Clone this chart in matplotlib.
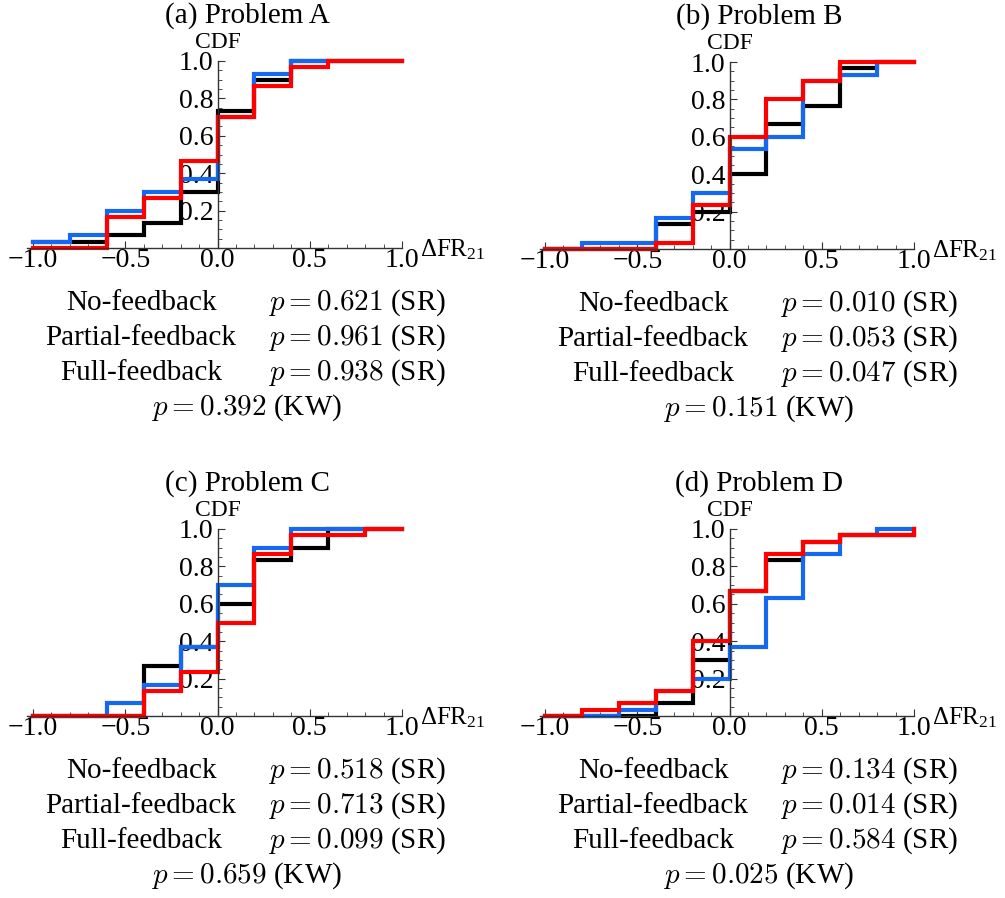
import numpy as np
import matplotlib
matplotlib.use("Agg")
import matplotlib.pyplot as plt

plt.rcParams['font.family'] = ['Liberation Serif', 'DejaVu Serif']
plt.rcParams['mathtext.fontset'] = 'cm'
plt.rcParams['xtick.labelsize'] = 20
plt.rcParams['ytick.labelsize'] = 20

# step positions of the empirical CDFs (value holds from x[i] to x[i+1])
x_steps = [-1.0, -0.8, -0.6, -0.4, -0.2, 0.0, 0.2, 0.4, 0.6, 0.8, 1.0]

titles = ["(a) Problem A", "(b) Problem B", "(c) Problem C", "(d) Problem D"]

no_fb = [
    [0.033, 0.033, 0.067, 0.133, 0.300, 0.733, 0.900, 1.0, 1.0, 1.0, 1.0],
    [0.0, 0.0, 0.0, 0.133, 0.200, 0.400, 0.667, 0.767, 0.967, 1.0, 1.0],
    [0.0, 0.0, 0.0, 0.267, 0.367, 0.600, 0.833, 0.900, 1.0, 1.0, 1.0],
    [0.0, 0.0, 0.0, 0.067, 0.300, 0.667, 0.833, 0.933, 0.967, 0.967, 1.0],
]
partial_fb = [
    [0.033, 0.067, 0.200, 0.300, 0.367, 0.700, 0.933, 1.0, 1.0, 1.0, 1.0],
    [0.0, 0.033, 0.033, 0.167, 0.300, 0.533, 0.600, 0.900, 0.933, 1.0, 1.0],
    [0.0, 0.0, 0.067, 0.167, 0.367, 0.700, 0.900, 1.0, 1.0, 1.0, 1.0],
    [0.0, 0.0, 0.033, 0.133, 0.200, 0.367, 0.633, 0.867, 0.967, 1.0, 1.0],
]
full_fb = [
    [0.0, 0.0, 0.167, 0.267, 0.467, 0.700, 0.867, 0.967, 1.0, 1.0, 1.0],
    [0.0, 0.0, 0.0, 0.033, 0.233, 0.600, 0.800, 0.900, 1.0, 1.0, 1.0],
    [0.0, 0.0, 0.0, 0.133, 0.233, 0.500, 0.867, 0.967, 0.967, 1.0, 1.0],
    [0.0, 0.033, 0.067, 0.133, 0.400, 0.667, 0.867, 0.933, 0.967, 0.967, 1.0],
]

groups = ["No-feedback", "Partial-feedback", "Full-feedback"]
p_sr = [
    ["0.621", "0.961", "0.938"],
    ["0.010", "0.053", "0.047"],
    ["0.518", "0.713", "0.099"],
    ["0.134", "0.014", "0.584"],
]
p_kw = ["0.392", "0.151", "0.659", "0.025"]

xtick_vals = [-1.0, -0.5, 0.0, 0.5, 1.0]
xtick_txt = ["\u22121.0", "\u22120.5", "0.0", "0.5", "1.0"]
ytick_vals = [0.2, 0.4, 0.6, 0.8, 1.0]
ytick_txt = ["0.2", "0.4", "0.6", "0.8", "1.0"]

colors = ["#000000", "#1469f0", "#ff0000"]

W, H = 1005, 898
fig = plt.figure(figsize=(W / 100, H / 100), dpi=100)

# pixel boxes: (left of x=-1.03, bottom y=0), axes 374.5 x 187 px
boxes = [(27.5, 248), (539.5, 249), (27.5, 716), (539.5, 716)]

for k in range(4):
    left, base = boxes[k]
    ax = fig.add_axes([left / W, (H - base) / H, 374.5 / W, 187 / H])
    for ys, c in zip([no_fb[k], partial_fb[k], full_fb[k]], colors):
        ax.step(x_steps, ys, where='post', color=c, lw=3, clip_on=False,
                solid_joinstyle='miter')
    ax.set_xlim(-1.03, 1.0)
    ax.set_ylim(0, 1.0)
    ax.spines['top'].set_visible(False)
    ax.spines['right'].set_visible(False)
    ax.spines['left'].set_position(('data', 0))
    for s in ['left', 'bottom']:
        ax.spines[s].set_color('#333333')
        ax.spines[s].set_linewidth(1)
    ax.tick_params(which='major', direction='in', length=5, width=0.8,
                   color='#333333')
    ax.tick_params(which='minor', direction='in', length=3, width=0.6,
                   color='#333333')
    ax.tick_params(axis='x', which='major', pad=0)
    ax.tick_params(axis='y', which='major', pad=3)
    ax.set_xticks(xtick_vals)
    ax.set_xticklabels(xtick_txt)
    ax.set_xticks(np.arange(-1.0, 1.01, 0.1), minor=True)
    ax.set_yticks(ytick_vals)
    ax.set_yticklabels(ytick_txt)
    ax.set_yticks(np.arange(0.05, 1.0, 0.05), minor=True)
    ax.patch.set_visible(False)

    ax.text(0, 1.07, "CDF", ha='center', va='baseline', fontsize=17)
    ax.text(1.1, -0.045, r"$\mathregular{\Delta FR_{21}}$", ha='left',
            va='baseline', fontsize=18)
    ax.text(0.16, 1.205, titles[k], ha='center', va='baseline', fontsize=21)

    rows = [-0.332, -0.519, -0.706]
    for g, pv, yy in zip(groups, p_sr[k], rows):
        ax.text(-0.415, yy, g, ha='center', va='baseline', fontsize=21)
        ax.text(0.271, yy, r"$p = %s$ (SR)" % pv, ha='left', va='baseline',
                fontsize=21)
    ax.text(0.157, -0.893, r"$p = %s$ (KW)" % p_kw[k], ha='center',
            va='baseline', fontsize=21)

fig.savefig("out.png", dpi=100)
